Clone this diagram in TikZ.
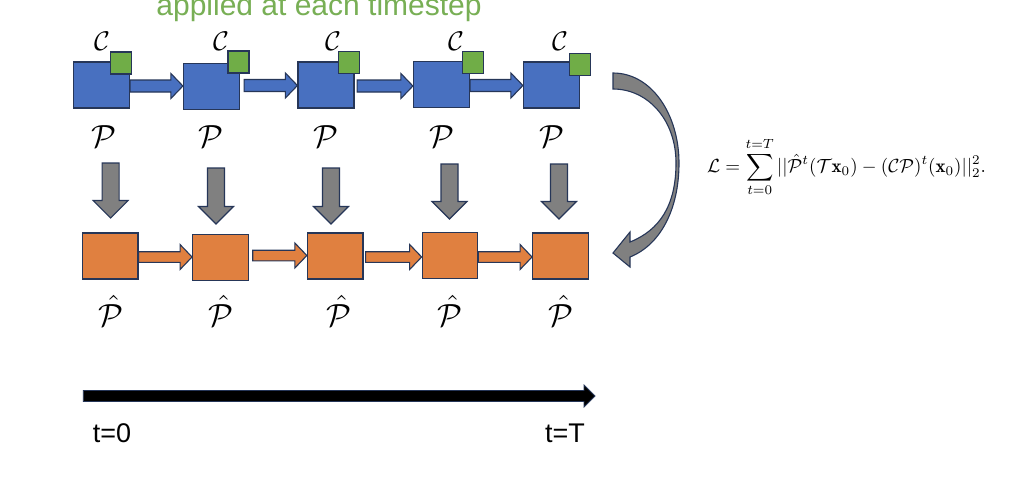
\documentclass[tikz,border=0pt]{standalone}
\usepackage{graphicx}
\usepackage{fontspec}
\newfontfamily\sansf{Liberation Sans}
\usetikzlibrary{calc}
\definecolor{bfill}{RGB}{72,112,192}
\definecolor{gfill}{RGB}{112,173,71}
\definecolor{ofill}{RGB}{224,128,64}
\definecolor{grayf}{RGB}{128,128,128}
\definecolor{navy}{RGB}{38,54,88}
\definecolor{titlegreen}{RGB}{120,175,85}
\newcommand{\hblock}[6]{%
  \path[#1] let \p1=(#2), \p2=(#3) in
  (\x1,\y1+#4pt) -- (\x2-#6pt,\y1+#4pt) -- (\x2-#6pt,\y1+#5pt) -- (\x2,\y1)
  -- (\x2-#6pt,\y1-#5pt) -- (\x2-#6pt,\y1-#4pt) -- (\x1,\y1-#4pt) -- cycle;}
\newcommand{\vblock}[6]{%
  \path[#1] let \p1=(#2), \p2=(#3) in
  (\x1-#4pt,\y1) -- (\x1-#4pt,\y2+#6pt) -- (\x1-#5pt,\y2+#6pt) -- (\x1,\y2)
  -- (\x1+#5pt,\y2+#6pt) -- (\x1+#4pt,\y2+#6pt) -- (\x1+#4pt,\y1) -- cycle;}
\newcommand{\cC}{\scalebox{2.7}{$\mathcal{C}$}}
\newcommand{\cP}{\scalebox{3.2}{$\mathcal{P}$}}
\newcommand{\cPh}{\scalebox{3.2}{$\hat{\mathcal{P}}$}}
\begin{document}
\begin{tikzpicture}[x=1pt,y=-1pt,
  bbox/.style={draw=navy,line width=1.2pt,fill=bfill,minimum width=56pt,minimum height=46pt,inner sep=0pt},
  gbox/.style={draw=navy,line width=1.2pt,fill=gfill,minimum width=21pt,minimum height=22pt,inner sep=0pt},
  obox/.style={draw=navy,line width=1.2pt,fill=ofill,minimum width=55.5pt,minimum height=46pt,inner sep=0pt},
  barrow/.style={draw=navy,line width=1.1pt,fill=bfill,line join=miter},
  oarrow/.style={draw=navy,line width=1.1pt,fill=ofill,line join=miter},
  garrow/.style={draw=navy,line width=1.1pt,fill=grayf,line join=miter},
  tarrow/.style={draw=navy,line width=0.8pt,fill=black,line join=miter},
  clab/.style={inner sep=0pt},
  plab/.style={inner sep=0pt,anchor=base},
  tlab/.style={font=\sansf\fontsize{27}{27}\selectfont,inner sep=0pt,anchor=base},
  ttl/.style={font=\sansf\fontsize{30}{30}\selectfont,text=titlegreen,inner sep=0pt,anchor=base},
]
\useasboundingbox (0,0) rectangle (1012,480);
\fill[white] (0,0) rectangle (1012,480);

\node[ttl] (title) at (319,15) {applied at each timestep};

% blue boxes
\node[bbox] (b1) at (101.5,85) {};
\node[bbox] (b2) at (211.5,86.5) {};
\node[bbox] (b3) at (326,85) {};
\node[bbox] (b4) at (441.5,84.5) {};
\node[bbox] (b5) at (551.5,85) {};
% blue arrows
\hblock{barrow}{$(b1.east)+(0,1)$}{b2.west}{6}{12.5}{12}
\hblock{barrow}{$(b2.east)+(4,-1)$}{b3.west}{6}{12.5}{12}
\hblock{barrow}{$(b3.east)+(2.5,1)$}{b4.west}{6}{12.5}{12}
\hblock{barrow}{$(b4.east)+(0,1)$}{b5.west}{6}{12.5}{12}
% green boxes
\node[gbox] (g1) at (121,63) {};
\node[gbox] (g2) at (238.5,62) {};
\node[gbox] (g3) at (349,62.5) {};
\node[gbox] (g4) at (473,62.5) {};
\node[gbox] (g5) at (580,64.5) {};
% C labels
\node[clab] (c1) at (102,41) {\cC};
\node[clab] (c2) at (221,41) {\cC};
\node[clab] (c3) at (333,41) {\cC};
\node[clab] (c4) at (456,41) {\cC};
\node[clab] (c5) at (560,41) {\cC};
% P labels
\node[plab] (p1) at (104,147) {\cP};
\node[plab] (p2) at (211,147) {\cP};
\node[plab] (p3) at (326,147) {\cP};
\node[plab] (p4) at (442,147) {\cP};
\node[plab] (p5) at (552,147) {\cP};

% gray down arrows
\coordinate (d1a) at (110.6,163); \coordinate (d1b) at (110.6,218);
\coordinate (d2a) at (216,168);   \coordinate (d2b) at (216,224);
\coordinate (d3a) at (331,168);   \coordinate (d3b) at (331,224);
\coordinate (d4a) at (449.5,164); \coordinate (d4b) at (449.5,219);
\coordinate (d5a) at (559,164);   \coordinate (d5b) at (559,219);
\vblock{garrow}{d1a}{d1b}{8.5}{17.5}{17.5}
\vblock{garrow}{d2a}{d2b}{8.5}{17.5}{17.5}
\vblock{garrow}{d3a}{d3b}{8.5}{17.5}{17.5}
\vblock{garrow}{d4a}{d4b}{8.5}{17.5}{17.5}
\vblock{garrow}{d5a}{d5b}{8.5}{17.5}{17.5}

% orange boxes
\node[obox] (o1) at (110.3,256) {};
\node[obox] (o2) at (220.4,257.5) {};
\node[obox] (o3) at (335.2,256) {};
\node[obox] (o4) at (450,255.5) {};
\node[obox] (o5) at (560.4,256) {};
\hblock{oarrow}{$(o1.east)+(0,1)$}{o2.west}{5.3}{12.5}{12}
\hblock{oarrow}{$(o2.east)+(4,-2)$}{o3.west}{5.3}{12.5}{12}
\hblock{oarrow}{$(o3.east)+(2,1)$}{o4.west}{5.3}{12.5}{12}
\hblock{oarrow}{$(o4.east)+(0,1.5)$}{o5.west}{5.3}{12.5}{12}
% P hat labels
\node[plab] (h1) at (111,326) {\cPh};
\node[plab] (h2) at (221,326) {\cPh};
\node[plab] (h3) at (339,326) {\cPh};
\node[plab] (h4) at (450,326) {\cPh};
\node[plab] (h5) at (561,326) {\cPh};

% curved arrow
\path[garrow] (613,73) .. controls (652,73) and (679,115) .. (679,163)
  .. controls (679,210) and (660,245) .. (630,257) -- (630,267) -- (613,253)
  -- (630,232) -- (630,242) .. controls (660,230) and (676,205) .. (676,163)
  .. controls (676,120) and (648,89) .. (613,89) -- cycle;

% loss
\node[inner sep=0pt] (loss) at (846.5,167) {\scalebox{1.9}{%
  $\displaystyle \mathcal{L}=\sum_{t=0}^{t=T}||\hat{\mathcal{P}}^t(\mathcal{T}\mathbf{x}_0)-(\mathcal{C}\mathcal{P})^t(\mathbf{x}_0)||_2^2.$}};

% timeline
\coordinate (tl0) at (83.3,396);
\coordinate (tl1) at (595,396);
\hblock{tarrow}{tl0}{tl1}{5.5}{11}{11}
\node[tlab] (t0) at (112,442) {t=0};
\node[tlab] (tT) at (565,442) {t=T};
\end{tikzpicture}
\end{document}
